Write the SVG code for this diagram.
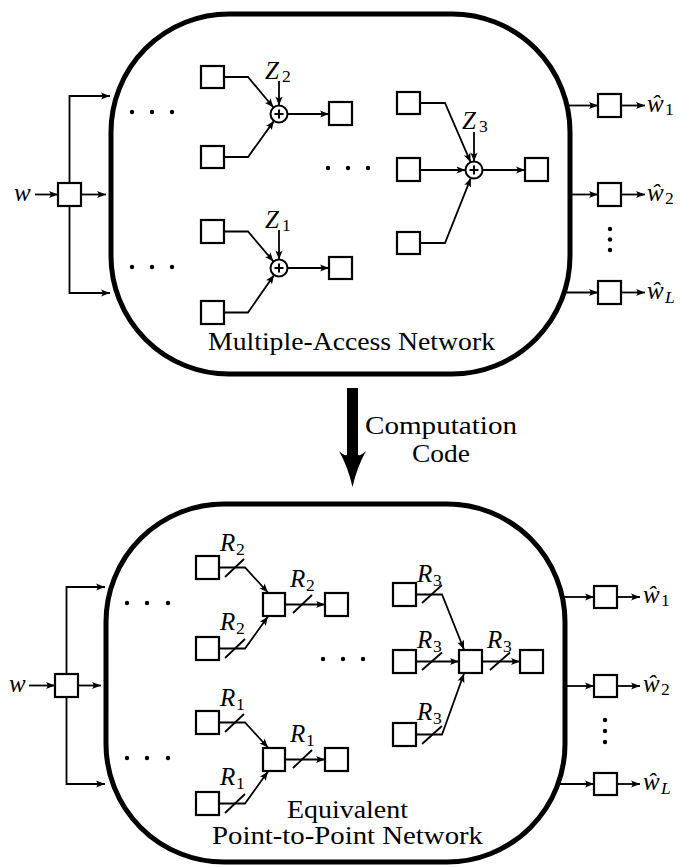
<svg xmlns="http://www.w3.org/2000/svg" width="681" height="867" viewBox="0 0 681 867">
<style>
.panel{fill:none;stroke:#000;stroke-width:5}
.sq{fill:#fff;stroke:#000;stroke-width:2.2}
.add{fill:#fff;stroke:#000;stroke-width:2}
.plus{stroke:#000;stroke-width:2;fill:none}
.ln{fill:none;stroke:#000;stroke-width:1.8;stroke-linejoin:miter}
.ar{marker-end:url(#ah)}
.tk{fill:none;stroke:#000;stroke-width:1.8}
.dot{fill:#000}
.t{font-family:"Liberation Serif","Times New Roman",serif;font-size:25px;fill:#000}
.m{font-family:"Liberation Serif","Times New Roman",serif;font-size:25px;font-style:italic;fill:#000}
.s{font-family:"Liberation Serif","Times New Roman",serif;font-size:17.5px;fill:#000}
.mid{text-anchor:middle}
</style>
<defs>
<marker id="ah" markerUnits="userSpaceOnUse" viewBox="-10 -5 11 10" refX="0" refY="0" markerWidth="11" markerHeight="10" orient="auto">
<path d="M0,0 L-9,-3.6 Q-6,0 -9,3.6 Z" fill="#000"/>
</marker>
</defs>

<g id="panels">
<rect id="panel-top" class="panel" x="111" y="14" width="459" height="360" rx="118" ry="118"/>
<rect id="panel-bottom" class="panel" x="106" y="504" width="459" height="358" rx="118" ry="118"/>
</g>

<g id="connectors">
<!-- top panel -->
<path class="ln ar" d="M35,194.5 H58"/>
<path class="ln ar" d="M69.5,183 V96 H110"/>
<path class="ln ar" d="M81,194.5 H106"/>
<path class="ln ar" d="M69.5,206 V293 H110"/>
<path class="ln ar" d="M224,77 H248 L273.5,107.5"/>
<path class="ln ar" d="M224,157 H248 L274,120.9"/>
<path class="ln ar" d="M279,81 V105.5"/>
<path class="ln ar" d="M287.5,114 H329"/>
<path class="ln ar" d="M224,231.5 H248 L273.5,261.5"/>
<path class="ln ar" d="M224,312.5 H248 L274.1,275"/>
<path class="ln ar" d="M279,230 V259.5"/>
<path class="ln ar" d="M287.5,268 H329"/>
<path class="ln ar" d="M420,103 H445 L470.6,162.2"/>
<path class="ln ar" d="M420,170 H465.5"/>
<path class="ln ar" d="M420,243 H445 L470.9,177.9"/>
<path class="ln ar" d="M474,132 V161.5"/>
<path class="ln ar" d="M482.5,170 H525"/>
<path class="ln ar" d="M567,105.5 H598"/>
<path class="ln ar" d="M570,194.5 H598"/>
<path class="ln ar" d="M564,292.5 H598"/>
<path class="ln ar" d="M621,105.5 H645"/>
<path class="ln ar" d="M621,194.5 H645"/>
<path class="ln ar" d="M621,292.5 H645"/>
<!-- bottom panel -->
<path class="ln ar" d="M29,685.5 H55"/>
<path class="ln ar" d="M66.5,674 V587 H105"/>
<path class="ln ar" d="M78,685.5 H101"/>
<path class="ln ar" d="M66.5,697 V784 H105"/>
<path class="ln ar" d="M219,567.5 H245 L268,592.5"/>
<path class="ln ar" d="M219,648.5 H245 L268,616.5"/>
<path class="ln ar" d="M285,604.5 H325"/>
<path class="tk" d="M225,577 L244,559 M225,658 L245,639 M293,613 L312,595"/>
<path class="ln ar" d="M219,722.5 H245 L268,747.5"/>
<path class="ln ar" d="M219,803.5 H245 L268,771.5"/>
<path class="ln ar" d="M285,759.5 H325"/>
<path class="tk" d="M225,732 L244,714 M225,813 L245,794 M293,768 L312,750"/>
<path class="ln ar" d="M416,594.5 H442 L464,649.5"/>
<path class="ln ar" d="M416,661.5 H459"/>
<path class="ln ar" d="M416,734.5 H442 L464,673.5"/>
<path class="ln ar" d="M482,661.5 H520"/>
<path class="tk" d="M422,603 L442,585 M422,670 L442,652.5 M490,670 L510,652.5 M422,744 L442,726"/>
<path class="ln ar" d="M562,597 H594"/>
<path class="ln ar" d="M565,686 H594"/>
<path class="ln ar" d="M558,784 H594"/>
<path class="ln ar" d="M617,597 H640"/>
<path class="ln ar" d="M617,686 H640"/>
<path class="ln ar" d="M617,784 H640"/>
</g>

<g id="transform-arrow">
<path d="M347,388 H358 V455 Q361,456 366,451 Q357,467 352.5,487 Q348,467 339,451 Q344,456 347,455 Z" fill="#000"/>
<text class="t mid" x="441" y="434" textLength="152" lengthAdjust="spacingAndGlyphs">Computation</text>
<text class="t mid" x="441" y="462" textLength="58" lengthAdjust="spacingAndGlyphs">Code</text>
</g>

<!-- top panel nodes -->
<g id="t-w"><text class="m" x="14" y="201">w</text></g>
<g id="t-in"><rect class="sq" x="58" y="183" width="23" height="23"/></g>
<g id="t-dots"><circle class="dot" cx="132" cy="112" r="2.2"/><circle class="dot" cx="152" cy="112" r="2.2"/><circle class="dot" cx="172" cy="112" r="2.2"/><circle class="dot" cx="132" cy="267" r="2.2"/><circle class="dot" cx="152" cy="267" r="2.2"/><circle class="dot" cx="172" cy="267" r="2.2"/><circle class="dot" cx="328" cy="168" r="2.2"/><circle class="dot" cx="348" cy="168" r="2.2"/><circle class="dot" cx="368" cy="168" r="2.2"/><circle class="dot" cx="610" cy="229" r="2.2"/><circle class="dot" cx="610" cy="239.5" r="2.2"/><circle class="dot" cx="610" cy="250" r="2.2"/></g>
<g id="t-a1"><rect class="sq" x="201" y="66" width="23" height="22"/></g>
<g id="t-a2"><rect class="sq" x="201" y="146" width="23" height="22"/></g>
<g id="t-sum2"><circle class="add" cx="279" cy="114" r="8.5"/><path class="plus" d="M274.5,114 H283.5 M279,109.5 V118.5"/></g>
<g id="t-z2"><text class="m" x="265" y="79">Z</text><text class="s" x="282" y="82">2</text></g>
<g id="t-ao"><rect class="sq" x="329" y="102" width="23" height="23"/></g>
<g id="t-b1"><rect class="sq" x="201" y="220" width="23" height="23"/></g>
<g id="t-b2"><rect class="sq" x="201" y="301" width="23" height="23"/></g>
<g id="t-sum1"><circle class="add" cx="279" cy="268" r="8.5"/><path class="plus" d="M274.5,268 H283.5 M279,263.5 V272.5"/></g>
<g id="t-z1"><text class="m" x="265" y="228">Z</text><text class="s" x="282" y="231">1</text></g>
<g id="t-bo"><rect class="sq" x="329" y="257" width="23" height="22"/></g>
<g id="t-c1"><rect class="sq" x="397" y="92" width="23" height="22"/></g>
<g id="t-c2"><rect class="sq" x="397" y="158" width="23" height="23"/></g>
<g id="t-c3"><rect class="sq" x="397" y="232" width="23" height="22"/></g>
<g id="t-sum3"><circle class="add" cx="474" cy="170" r="8.5"/><path class="plus" d="M469.5,170 H478.5 M474,165.5 V174.5"/></g>
<g id="t-z3"><text class="m" x="462" y="129">Z</text><text class="s" x="479" y="132">3</text></g>
<g id="t-co"><rect class="sq" x="525" y="158" width="23" height="23"/></g>
<g id="t-o1"><rect class="sq" x="598" y="94" width="23" height="23"/><text class="m" x="647" y="112">ŵ</text><text class="s" x="665" y="115">1</text></g>
<g id="t-o2"><rect class="sq" x="598" y="183" width="23" height="23"/><text class="m" x="647" y="201">ŵ</text><text class="s" x="665" y="204">2</text></g>
<g id="t-oL"><rect class="sq" x="598" y="281" width="23" height="23"/><text class="m" x="647" y="299">ŵ</text><text class="m" x="665" y="303" style="font-size:17.5px">L</text></g>
<g id="t-label"><text class="t mid" x="351.5" y="350" textLength="287" lengthAdjust="spacingAndGlyphs">Multiple-Access Network</text></g>

<!-- bottom panel nodes -->
<g id="b-w"><text class="m" x="9" y="692">w</text></g>
<g id="b-in"><rect class="sq" x="55" y="674" width="23" height="23"/></g>
<g id="b-dots"><circle class="dot" cx="127" cy="603" r="2.2"/><circle class="dot" cx="147" cy="603" r="2.2"/><circle class="dot" cx="168" cy="603" r="2.2"/><circle class="dot" cx="127" cy="758" r="2.2"/><circle class="dot" cx="147" cy="758" r="2.2"/><circle class="dot" cx="168" cy="758" r="2.2"/><circle class="dot" cx="323" cy="659" r="2.2"/><circle class="dot" cx="343" cy="659" r="2.2"/><circle class="dot" cx="363" cy="659" r="2.2"/><circle class="dot" cx="605" cy="720" r="2.2"/><circle class="dot" cx="605" cy="731" r="2.2"/><circle class="dot" cx="605" cy="742" r="2.2"/></g>
<g id="b-a1"><rect class="sq" x="196" y="556" width="23" height="23"/><text class="m" x="220" y="551">R</text><text class="s" x="236" y="555">2</text></g>
<g id="b-a2"><rect class="sq" x="196" y="637" width="23" height="23"/><text class="m" x="220" y="630">R</text><text class="s" x="236" y="634">2</text></g>
<g id="b-am"><rect class="sq" x="263" y="593" width="22" height="23"/><text class="m" x="290" y="587">R</text><text class="s" x="306" y="591">2</text></g>
<g id="b-ao"><rect class="sq" x="325" y="593" width="23" height="23"/></g>
<g id="b-b1"><rect class="sq" x="196" y="711" width="23" height="23"/><text class="m" x="220" y="706">R</text><text class="s" x="236" y="710">1</text></g>
<g id="b-b2"><rect class="sq" x="196" y="792" width="23" height="23"/><text class="m" x="220" y="785">R</text><text class="s" x="236" y="789">1</text></g>
<g id="b-bm"><rect class="sq" x="263" y="748" width="22" height="23"/><text class="m" x="290" y="742">R</text><text class="s" x="306" y="746">1</text></g>
<g id="b-bo"><rect class="sq" x="325" y="748" width="23" height="23"/></g>
<g id="b-c1"><rect class="sq" x="393" y="583" width="23" height="23"/><text class="m" x="417" y="582">R</text><text class="s" x="433" y="586">3</text></g>
<g id="b-c2"><rect class="sq" x="393" y="650" width="23" height="23"/><text class="m" x="417" y="648">R</text><text class="s" x="433" y="652">3</text></g>
<g id="b-c3"><rect class="sq" x="393" y="723" width="23" height="23"/><text class="m" x="417" y="720">R</text><text class="s" x="433" y="724">3</text></g>
<g id="b-cm"><rect class="sq" x="459" y="650" width="23" height="23"/><text class="m" x="487" y="648">R</text><text class="s" x="503" y="652">3</text></g>
<g id="b-co"><rect class="sq" x="520" y="650" width="23" height="23"/></g>
<g id="b-o1"><rect class="sq" x="594" y="586" width="23" height="22"/><text class="m" x="643" y="603">ŵ</text><text class="s" x="661" y="606">1</text></g>
<g id="b-o2"><rect class="sq" x="594" y="675" width="23" height="22"/><text class="m" x="643" y="692">ŵ</text><text class="s" x="661" y="695">2</text></g>
<g id="b-oL"><rect class="sq" x="594" y="773" width="23" height="22"/><text class="m" x="643" y="790">ŵ</text><text class="m" x="661" y="794" style="font-size:17.5px">L</text></g>
<g id="b-label"><text class="t mid" x="347.5" y="818" textLength="121" lengthAdjust="spacingAndGlyphs">Equivalent</text><text class="t mid" x="347.5" y="844" textLength="271" lengthAdjust="spacingAndGlyphs">Point-to-Point Network</text></g>
</svg>
